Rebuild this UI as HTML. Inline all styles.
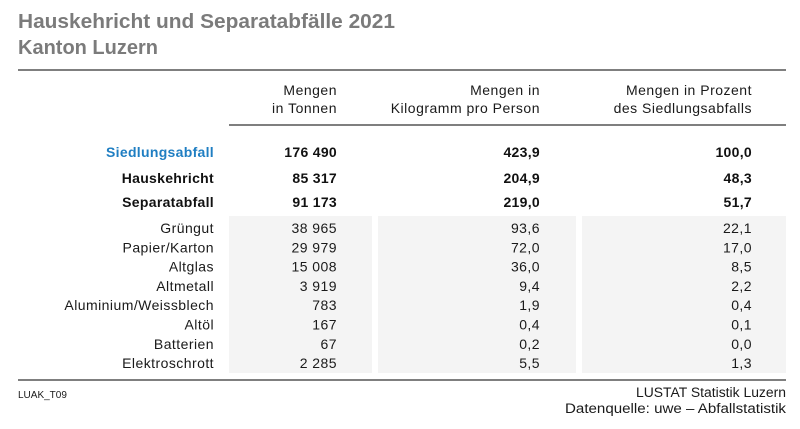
<!DOCTYPE html>
<html><head><meta charset="utf-8"><style>
html,body{margin:0;padding:0;background:#fff;}
svg{display:block;font-family:"Liberation Sans",sans-serif;}
</style></head><body>
<svg width="800" height="429" viewBox="0 0 800 429" xmlns="http://www.w3.org/2000/svg">
<rect width="800" height="429" fill="#fff"/>
<text x="18" y="28" font-size="20" font-weight="bold" fill="#7b7b7b" textLength="377" lengthAdjust="spacingAndGlyphs">Hauskehricht und Separatabfälle 2021</text>
<text x="18" y="54" font-size="20" font-weight="bold" fill="#7b7b7b" textLength="140" lengthAdjust="spacingAndGlyphs">Kanton Luzern</text>
<line x1="18" y1="70" x2="786" y2="70" stroke="#555" stroke-width="1.4"/>
<g font-size="14" fill="#1a1a1a" text-anchor="end" letter-spacing="0.5">
<text x="337" y="95">Mengen</text>
<text x="337" y="113">in Tonnen</text>
<text x="540" y="95">Mengen in</text>
<text x="540" y="113">Kilogramm pro Person</text>
<text x="752" y="95">Mengen in Prozent</text>
<text x="752" y="113">des Siedlungsabfalls</text>
</g>
<line x1="229" y1="125" x2="786" y2="125" stroke="#555" stroke-width="1.4"/>
<rect x="229" y="216" width="143" height="157" fill="#f4f4f4"/>
<rect x="378" y="216" width="198" height="157" fill="#f4f4f4"/>
<rect x="582" y="216" width="204" height="157" fill="#f4f4f4"/>
<g font-size="14" font-weight="bold" fill="#111" text-anchor="end" letter-spacing="0.3">
<text x="214" y="157" fill="#1f7ec2">Siedlungsabfall</text>
<text x="337" y="157">176 490</text>
<text x="540" y="157">423,9</text>
<text x="752" y="157">100,0</text>
<text x="214" y="183">Hauskehricht</text>
<text x="337" y="183">85 317</text>
<text x="540" y="183">204,9</text>
<text x="752" y="183">48,3</text>
<text x="214" y="207">Separatabfall</text>
<text x="337" y="207">91 173</text>
<text x="540" y="207">219,0</text>
<text x="752" y="207">51,7</text>
</g>
<g font-size="14" fill="#1a1a1a" text-anchor="end" letter-spacing="0.45">
<text x="214" y="233">Grüngut</text><text x="337" y="233">38 965</text><text x="540" y="233">93,6</text><text x="752" y="233">22,1</text>
<text x="214" y="252.3">Papier/Karton</text><text x="337" y="252.3">29 979</text><text x="540" y="252.3">72,0</text><text x="752" y="252.3">17,0</text>
<text x="214" y="271.6">Altglas</text><text x="337" y="271.6">15 008</text><text x="540" y="271.6">36,0</text><text x="752" y="271.6">8,5</text>
<text x="214" y="290.9">Altmetall</text><text x="337" y="290.9">3 919</text><text x="540" y="290.9">9,4</text><text x="752" y="290.9">2,2</text>
<text x="214" y="310.2">Aluminium/Weissblech</text><text x="337" y="310.2">783</text><text x="540" y="310.2">1,9</text><text x="752" y="310.2">0,4</text>
<text x="214" y="329.5">Altöl</text><text x="337" y="329.5">167</text><text x="540" y="329.5">0,4</text><text x="752" y="329.5">0,1</text>
<text x="214" y="348.8">Batterien</text><text x="337" y="348.8">67</text><text x="540" y="348.8">0,2</text><text x="752" y="348.8">0,0</text>
<text x="214" y="368">Elektroschrott</text><text x="337" y="368">2 285</text><text x="540" y="368">5,5</text><text x="752" y="368">1,3</text>
</g>
<line x1="18" y1="380" x2="786" y2="380" stroke="#555" stroke-width="1.4"/>
<text x="18" y="398" font-size="10" fill="#1a1a1a">LUAK_T09</text>
<g font-size="13.5" fill="#1a1a1a">
<text x="636" y="397" textLength="150" lengthAdjust="spacingAndGlyphs">LUSTAT Statistik Luzern</text>
<text x="565" y="413" textLength="221" lengthAdjust="spacingAndGlyphs">Datenquelle: uwe – Abfallstatistik</text>
</g>
</svg>
</body></html>
